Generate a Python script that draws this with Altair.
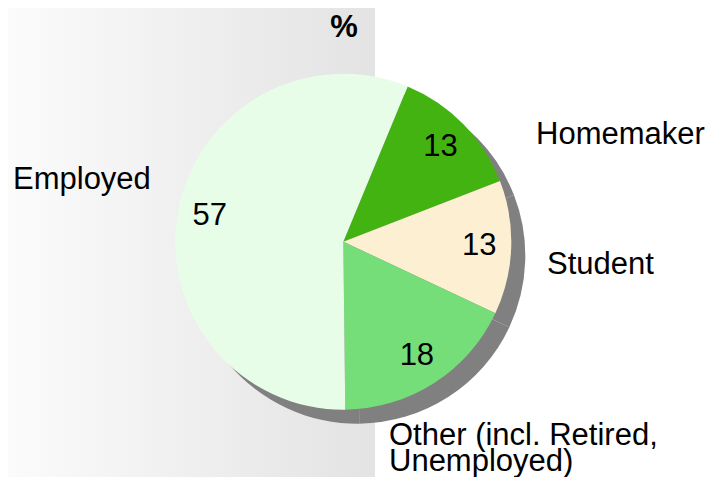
import math
import altair as alt
import pandas as pd

# ---- data ----
categories = ["Homemaker", "Student", "Other (incl. Retired,\nUnemployed)", "Employed"]
values = [13, 13, 18, 57]
colors = ["#43b312", "#fdefd1", "#75de78", "#e8fde8"]

# ---- layout ----
W, H = 698, 469
CX, CY = 335.3, 233.7          # pie centre in chart coords
R = 168
SHADOW = 14
START = math.radians(22.5)
FONT = "Liberation Sans"
FS = 31

df = pd.DataFrame({"cat": categories, "value": values, "order": list(range(len(values)))})

theta = alt.Theta("value:Q", stack=True,
                  scale=alt.Scale(domain=[0, sum(values)], range=[START, START + 2 * math.pi]))
color = alt.Color("cat:N", scale=alt.Scale(domain=categories, range=colors), legend=None)

base = alt.Chart(df)

# background gradient band
bg = alt.Chart(pd.DataFrame({"k": [0]})).mark_rect(
    color=alt.Gradient(gradient="linear", x1=0, x2=1, y1=0, y2=0,
                       stops=[alt.GradientStop(offset=0, color="#fbfbfb"),
                              alt.GradientStop(offset=1, color="#e3e3e3")])
).encode(x=alt.value(0), x2=alt.value(367), y=alt.value(0), y2=alt.value(H))

# shadow (whole pie in grey, offset)
shadow = base.mark_arc(color="#808080", radius=R, strokeWidth=0).encode(
    theta=theta, order=alt.Order("order:Q"),
    x=alt.value(CX + SHADOW), y=alt.value(CY + SHADOW))

pie = base.mark_arc(radius=R, strokeWidth=0).encode(
    theta=theta, color=color, order=alt.Order("order:Q"),
    x=alt.value(CX), y=alt.value(CY))

vals = base.mark_text(radius=136, font=FONT, fontSize=FS, color="black",
                      align="center", baseline="middle").encode(
    theta=theta, order=alt.Order("order:Q"), text="value:Q",
    x=alt.value(CX), y=alt.value(CY))

# outside labels: left-aligned anchor points (chart coords, baseline)
label_pos = {
    categories[0]: (528, 136),
    categories[1]: (539, 266),
    categories[2]: (381, 437),
    categories[3]: (5, 181),
}
label_layers = []
for c in categories:
    lx, ly = label_pos[c]
    label_layers.append(
        alt.Chart(pd.DataFrame({"t": [c]})).mark_text(
            font=FONT, fontSize=FS, align="left", baseline="alphabetic",
            lineBreak="\n", lineHeight=26, color="black"
        ).encode(text="t:N", x=alt.value(lx), y=alt.value(ly))
    )

title = alt.Chart(pd.DataFrame({"t": ["%"]})).mark_text(
    font=FONT, fontSize=FS, fontWeight="bold", align="center", baseline="alphabetic"
).encode(text="t:N", x=alt.value(336), y=alt.value(29))

chart = alt.layer(bg, shadow, pie, vals, *label_layers, title).properties(
    width=W, height=H, padding=0, autosize=alt.AutoSizeParams(type="none"),
    background="white"
).configure_view(stroke=None)

chart.save("out.html", embed_options={"renderer": "svg", "actions": False})
